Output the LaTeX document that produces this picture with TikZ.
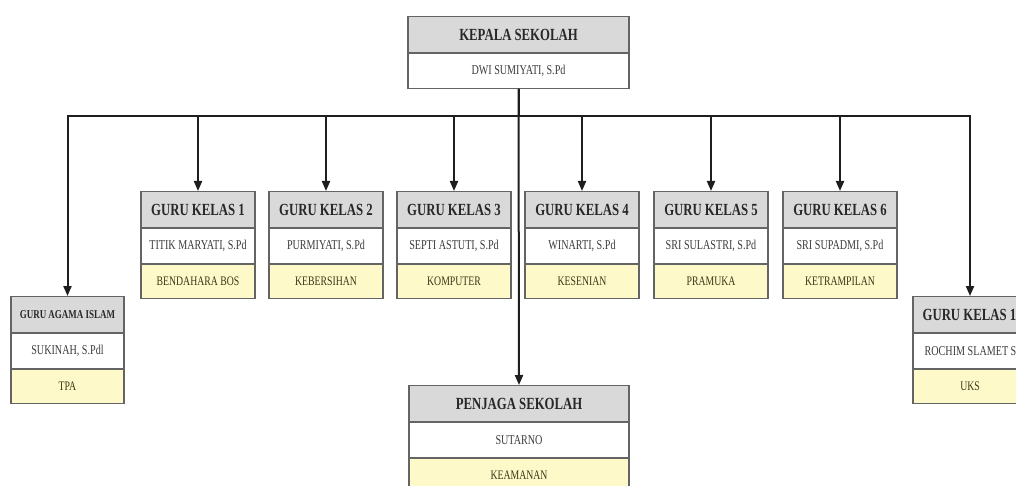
\documentclass[tikz,border=0pt]{standalone}
\usepackage{fontspec}
\setmainfont{Liberation Serif}[FakeStretch=0.75]
\usetikzlibrary{arrows.meta}
\definecolor{hdrfill}{RGB}{217,217,217}
\definecolor{rolfill}{RGB}{254,249,200}
\definecolor{boxline}{RGB}{100,100,100}
\definecolor{hdrtext}{RGB}{40,40,40}
\definecolor{bdytext}{RGB}{60,60,60}
\definecolor{roltext}{RGB}{60,52,22}
\definecolor{linkcol}{RGB}{30,30,30}
\tikzset{
  cell/.style={draw=boxline, line width=1.1pt, inner sep=0pt, minimum height=34.5pt, anchor=north},
  hdr/.style={cell, minimum height=36pt, fill=hdrfill, text=hdrtext, font=\fontsize{17}{19}\selectfont\bfseries},
  hdrsmall/.style={cell, minimum height=36pt, fill=hdrfill, text=hdrtext, font=\fontsize{12}{14}\selectfont\bfseries},
  bdy/.style={cell, fill=white, text=bdytext, font=\fontsize{13.5}{15}\selectfont},
  rol/.style={cell, fill=rolfill, text=roltext, font=\fontsize{13}{15}\selectfont},
  link/.style={draw=linkcol, line width=2pt},
  arr/.style={link, -{Triangle[length=10pt,width=8pt]}}
}
\newcommand\orgunit[7]{%
  \node[#5, minimum width=#3pt] (#1h) at (#2,#4) {#6};
  \node[bdy, minimum width=#3pt] (#1b) at (#1h.south) {#7};
}
\begin{document}
\begin{tikzpicture}[x=1pt,y=-1pt]
\clip (0,0) rectangle (1016,486);
\fill[white] (0,0) rectangle (1016,486);
% Kepala sekolah
\orgunit{kep}{518.5}{221}{16}{hdr}{KEPALA SEKOLAH}{DWI SUMIYATI, S.Pd}
% Guru kelas row
\orgunit{ga}{198}{114}{191}{hdr}{GURU KELAS 1}{TITIK MARYATI, S.Pd}
\node[rol, minimum width=114pt] (gar) at (gab.south) {BENDAHARA BOS};
\orgunit{gb}{326}{114}{191}{hdr}{GURU KELAS 2}{PURMIYATI, S.Pd}
\node[rol, minimum width=114pt] (gbr) at (gbb.south) {KEBERSIHAN};
\orgunit{gc}{454}{114}{191}{hdr}{GURU KELAS 3}{SEPTI ASTUTI, S.Pd}
\node[rol, minimum width=114pt] (gcr) at (gcb.south) {KOMPUTER};
\orgunit{gd}{582}{114}{191}{hdr}{GURU KELAS 4}{WINARTI, S.Pd}
\node[rol, minimum width=114pt] (gdr) at (gdb.south) {KESENIAN};
\orgunit{ge}{711}{114}{191}{hdr}{GURU KELAS 5}{SRI SULASTRI, S.Pd}
\node[rol, minimum width=114pt] (ger) at (geb.south) {PRAMUKA};
\orgunit{gf}{840}{114}{191}{hdr}{GURU KELAS 6}{SRI SUPADMI, S.Pd}
\node[rol, minimum width=114pt] (gfr) at (gfb.south) {KETRAMPILAN};
% Guru agama islam
\orgunit{ag}{67.5}{113}{296}{hdrsmall}{GURU AGAMA ISLAM}{SUKINAH, S.Pdl}
\node[rol, minimum width=113pt] (agr) at (agb.south) {TPA};
% Right box (cut off)
\node[hdr, minimum width=114pt] (rkh) at (970,296) {};
\node[bdy, minimum width=114pt] (rkb) at (rkh.south) {};
\node[rol, minimum width=114pt] (rkr) at (rkb.south) {UKS};
\node[anchor=west, inner sep=0pt, text=hdrtext, font=\fontsize{17}{19}\selectfont\bfseries] (rkht) at ([xshift=10pt]rkh.west) {GURU KELAS 1};
\node[anchor=west, inner sep=0pt, text=bdytext, font=\fontsize{13.5}{15}\selectfont] (rkbt) at ([xshift=12pt]rkb.west) {ROCHIM SLAMET S};
% Penjaga sekolah
\orgunit{pj}{519}{220}{385}{hdr}{PENJAGA SEKOLAH}{SUTARNO}
\node[rol, minimum width=220pt] (pjr) at (pjb.south) {KEAMANAN};
% Connectors
\coordinate (busC) at (kepb.south |- 0,116);
\draw[link] (kepb.south) -- (busC);
\draw[arr] (busC) -| (agh.north);
\draw[arr] (busC) -| (rkh.north);
\draw[arr] (kepb.south) -- (pjh.north);
\foreach \n in {ga,gb,gc,gd,ge,gf}{
  \draw[arr] (\n h.north |- busC) -- (\n h.north);
}
\end{tikzpicture}
\end{document}
